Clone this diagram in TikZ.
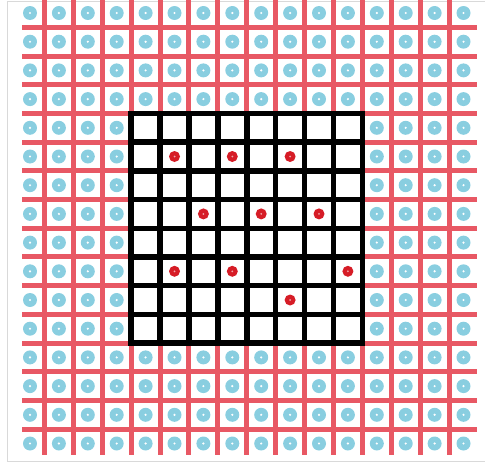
\documentclass[tikz,border=0pt]{standalone}
\usetikzlibrary{calc}
\definecolor{gridred}{RGB}{232,88,100}
\definecolor{dotcyan}{RGB}{137,206,224}
\definecolor{dotred}{RGB}{214,28,38}
\tikzset{
    redline/.style={draw=gridred, line width=5pt},
    blackline/.style={draw=black, line width=5.5pt, line cap=rect},
    cyandot/.style={fill=dotcyan},
    reddot/.style={fill=dotred},
    frameline/.style={draw=black!15, line width=1pt},
}

\begin{document}
\begin{tikzpicture}[x=1pt, y=-1pt]
    \useasboundingbox (0,0) rectangle (485,463);
    % outer frame
    \draw[frameline] (485,1) -- (7,1) -- (7,461) -- (485,461);

    % red lattice
    \foreach \k in {1,...,15} {
        \draw[redline] ({30+28.9*(\k-0.5)},0) -- ({30+28.9*(\k-0.5)},455);
        \draw[redline] (22,{13+28.7*(\k-0.5)}) -- (477,{13+28.7*(\k-0.5)});
    }
    \foreach \i in {0,...,15}
        \foreach \j in {0,...,15} {
            \fill[cyandot] ({30+28.9*\i},{13+28.7*\j}) circle (7);
            \fill[white] ({30+28.9*\i},{13+28.7*\j}) circle (1.2);
        }

    % black window
    \coordinate (winA) at ({30+28.9*3.5},{13+28.7*3.5});
    \coordinate (winB) at ({30+28.9*11.5},{13+28.7*11.5});
    \fill[white] (winA) rectangle (winB);
    \foreach \k in {3.5,4.5,...,11.5} {
        \draw[blackline] ({30+28.9*\k},{13+28.7*3.5}) -- ({30+28.9*\k},{13+28.7*11.5});
        \draw[blackline] ({30+28.9*3.5},{13+28.7*\k}) -- ({30+28.9*11.5},{13+28.7*\k});
    }

    % red dots
    \foreach \i/\j in {5/5, 7/5, 9/5, 6/7, 8/7, 10/7, 5/9, 7/9, 11/9, 9/10} {
        \fill[reddot] ({30+28.9*\i},{13+28.7*\j}) circle (5.5);
        \fill[white!60!dotred] ({30+28.9*\i},{13+28.7*\j}) circle (1);
    }
\end{tikzpicture}
\end{document}
